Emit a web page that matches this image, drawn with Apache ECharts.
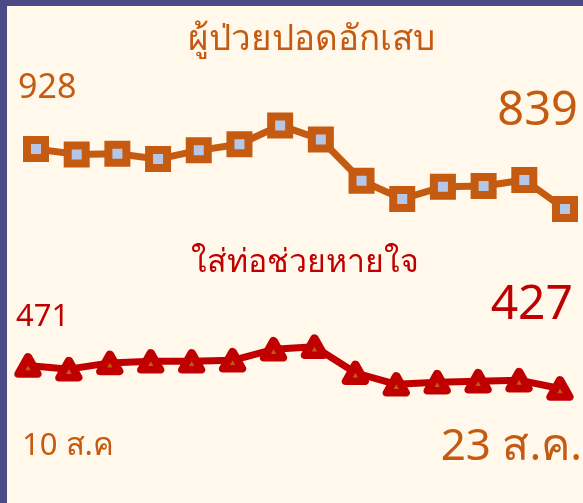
<!DOCTYPE html>
<html>
<head>
<meta charset="utf-8">
<script src="https://cdn.jsdelivr.net/npm/echarts@6/dist/echarts.min.js"></script>
<style>
  html, body { margin: 0; padding: 0; }
  #chart { width: 583px; height: 503px; }
</style>
</head>
<body>
<div id="chart"></div>
<script>
// วันที่ 10-23 ส.ค.
var dates = ['10 ส.ค', '11 ส.ค.', '12 ส.ค.', '13 ส.ค.', '14 ส.ค.', '15 ส.ค.', '16 ส.ค.',
  '17 ส.ค.', '18 ส.ค.', '19 ส.ค.', '20 ส.ค.', '21 ส.ค.', '22 ส.ค.', '23 ส.ค.'];
// ผู้ป่วยปอดอักเสบ
var pneumonia = [928, 920, 921, 913, 926, 935, 963, 942, 881, 854, 872, 873, 882, 839];
// ใส่ท่อช่วยหายใจ
var intubated = [471, 464, 476, 479, 479, 481, 502, 507, 457, 435, 439, 441, 443, 427];

var orange = '#c55a11', red = '#c00000';
var font = "'Noto Sans', sans-serif";

var chart = echarts.init(document.getElementById('chart'));

var last = dates.length - 1;

chart.setOption({
  backgroundColor: '#fff8eb',
  animation: false,
  title: [
    { text: 'ผู้ป่วยปอดอักเสบ', left: 183, top: 18,
      textStyle: { color: orange, fontSize: 35, fontWeight: 'normal', fontFamily: font } },
    { text: 'ใส่ท่อช่วยหายใจ', left: 186, top: 242,
      textStyle: { color: red, fontSize: 32, fontWeight: 'normal', fontFamily: font } }
  ],
  grid: [
    { left: 36, right: 18, top: 101, height: 150 },
    { left: 28, right: 23, top: 301, height: 100 }
  ],
  xAxis: [
    { type: 'category', gridIndex: 0, data: dates, boundaryGap: false, show: false },
    { type: 'category', gridIndex: 1, data: dates, boundaryGap: false, show: false }
  ],
  yAxis: [
    { type: 'value', gridIndex: 0, min: 776.7, max: 999.2, show: false },
    { type: 'value', gridIndex: 1, min: 403.1, max: 594.4, show: false }
  ],
  series: [
    {
      type: 'line', xAxisIndex: 0, yAxisIndex: 0, data: pneumonia,
      lineStyle: { color: orange, width: 7 },
      symbol: 'rect', symbolSize: 18,
      itemStyle: { color: '#b4c7e7', borderColor: orange, borderWidth: 8 }
    },
    {
      type: 'line', xAxisIndex: 1, yAxisIndex: 1, data: intubated,
      lineStyle: { color: red, width: 7 },
      symbol: 'triangle', symbolSize: [19, 17],
      itemStyle: { color: orange, borderColor: red, borderWidth: 8, borderJoin: 'round' }
    }
  ],
  graphic: [
    { type: 'rect', shape: { x: 0, y: 0, width: 583, height: 6 }, style: { fill: '#4b4a87' } },
    { type: 'rect', shape: { x: 0, y: 0, width: 7, height: 503 }, style: { fill: '#4b4a87' } },
    { type: 'text', style: { text: String(pneumonia[0]), x: 18, y: 88, textAlign: 'left',
        textVerticalAlign: 'middle', fill: orange, fontSize: 34, fontFamily: font } },
    { type: 'text', style: { text: String(pneumonia[last]), x: 578, y: 112, textAlign: 'right',
        textVerticalAlign: 'middle', fill: orange, fontSize: 47, fontFamily: font } },
    { type: 'text', style: { text: String(intubated[0]), x: 16, y: 317, textAlign: 'left',
        textVerticalAlign: 'middle', fill: red, fontSize: 31, fontFamily: font } },
    { type: 'text', style: { text: String(intubated[last]), x: 573, y: 305, textAlign: 'right',
        textVerticalAlign: 'middle', fill: red, fontSize: 48, fontFamily: font } },
    { type: 'text', style: { text: dates[0], x: 22, y: 446, textAlign: 'left',
        textVerticalAlign: 'middle', fill: orange, fontSize: 31, fontFamily: font } },
    { type: 'text', style: { text: dates[last], x: 582, y: 447, textAlign: 'right',
        textVerticalAlign: 'middle', fill: orange, fontSize: 44, fontFamily: font } }
  ]
});
</script>
</body>
</html>
